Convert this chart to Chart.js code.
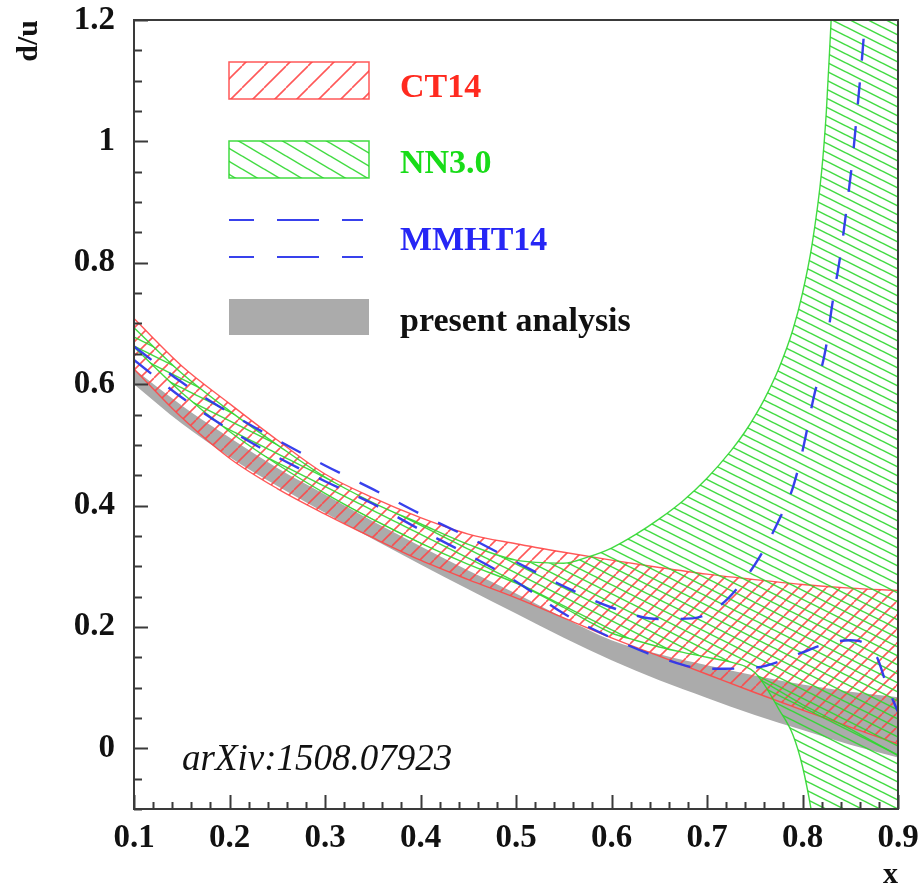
<!DOCTYPE html>
<html><head><meta charset="utf-8">
<script src="https://cdn.jsdelivr.net/npm/chart.js@4.4.1/dist/chart.umd.min.js"></script>
<style>html,body{margin:0;padding:0;background:#fff;}#wrap{width:920px;height:886px;}</style>
</head><body><div id="wrap"><canvas id="c" width="920" height="886"></canvas></div>
<script>
// ---- data ----
const ct14X     = [0.1,0.15,0.2,0.25,0.3,0.35,0.4,0.45,0.5,0.55,0.6,0.65,0.7,0.75,0.8,0.85,0.9];
const ct14Upper = [0.708,0.630,0.568,0.508,0.452,0.413,0.380,0.353,0.337,0.323,0.310,0.298,0.287,0.278,0.270,0.264,0.260];
const ct14Lower = [0.625,0.545,0.478,0.428,0.386,0.347,0.310,0.278,0.248,0.215,0.182,0.152,0.122,0.092,0.063,0.035,0.007];

const nnX     = [0.1,0.15,0.2,0.25,0.3,0.35,0.4,0.45,0.5,0.55,0.575,0.6,0.625,0.65,0.675,0.7,0.725,0.74,0.75,0.76,0.775,0.79,0.8,0.81,0.82,0.825,0.83,0.85,0.9];
const nnUpper = [0.693,0.618,0.556,0.500,0.447,0.405,0.370,0.336,0.310,0.305,0.315,0.330,0.352,0.378,0.408,0.445,0.490,0.522,0.547,0.575,0.625,0.690,0.750,0.830,0.950,1.050,1.200,1.800,2.600];
const nnLower = [0.661,0.586,0.522,0.468,0.420,0.377,0.338,0.303,0.272,0.232,0.210,0.190,0.178,0.167,0.158,0.150,0.142,0.135,0.125,0.105,0.065,0.022,-0.030,-0.110,-0.220,-0.300,-0.380,-0.700,-1.500];
const nnEdgeX = [0.757,0.8,0.85,0.9];
const nnEdgeY = [0.112,0.072,0.032,-0.012];

const mmhtUpperX = [0.1,0.15,0.2,0.25,0.3,0.35,0.4,0.45,0.5,0.55,0.6,0.65,0.685,0.715,0.735,0.755,0.775,0.79,0.8,0.812,0.824,0.832,0.84,0.847,0.853,0.858,0.863,0.87];
const mmhtUpper  = [0.662,0.603,0.553,0.508,0.466,0.427,0.386,0.348,0.307,0.267,0.232,0.213,0.214,0.237,0.270,0.315,0.375,0.430,0.490,0.580,0.656,0.740,0.816,0.900,0.980,1.063,1.150,1.300];
const mmhtLowerX = [0.1,0.15,0.2,0.25,0.3,0.35,0.4,0.45,0.5,0.55,0.6,0.65,0.7,0.75,0.8,0.82,0.85,0.865,0.878,0.888,0.9];
const mmhtLower  = [0.640,0.578,0.525,0.480,0.440,0.403,0.360,0.319,0.275,0.222,0.182,0.150,0.131,0.133,0.158,0.170,0.178,0.173,0.150,0.105,0.060];

const anaX     = [0.1,0.15,0.2,0.25,0.3,0.35,0.4,0.45,0.5,0.55,0.6,0.65,0.7,0.75,0.8,0.85,0.9];
const anaUpper = [0.625,0.565,0.512,0.462,0.418,0.374,0.333,0.293,0.255,0.215,0.178,0.155,0.137,0.120,0.105,0.093,0.084];
const anaLower = [0.600,0.535,0.480,0.432,0.388,0.345,0.303,0.262,0.222,0.182,0.145,0.112,0.083,0.055,0.030,0.006,-0.015];

const xTickValues = [0.1,0.2,0.3,0.4,0.5,0.6,0.7,0.8,0.9];
const xTickLabels = ['0.1','0.2','0.3','0.4','0.5','0.6','0.7','0.8','0.9'];
const yTickValues = [0,0.2,0.4,0.6,0.8,1,1.2];
const yTickLabels = ['0','0.2','0.4','0.6','0.8','1','1.2'];
const legendLabels = ['CT14','NN3.0','MMHT14','present analysis'];
const annotationText = 'arXiv:1508.07923';

// ---- styles ----
const RED = 'rgba(255,70,70,0.9)', GREEN = 'rgba(45,215,45,0.9)', BLUE = 'rgba(45,55,235,0.95)', GRAY = '#ababab';
const SERIF = "'Liberation Serif','Times New Roman',serif";

function hatch(color, w, h, up, lw) {
  const c = document.createElement('canvas'); c.width = w; c.height = h;
  const g = c.getContext('2d'); g.strokeStyle = color; g.lineWidth = lw;
  for (let k = -1; k <= 1; k++) {
    g.beginPath();
    if (up) { g.moveTo(0, h + k*h); g.lineTo(w, k*h); }
    else { g.moveTo(0, k*h); g.lineTo(w, h + k*h); }
    g.stroke();
  }
  return g.createPattern(c, 'repeat');
}
const redHatch = hatch(RED, 14, 14, true, 1.6);
const greenHatch = hatch(GREEN, 18, 9, false, 1.5);
const redHatchL = hatch(RED, 22, 22, true, 1.6);
const greenHatchL = hatch(GREEN, 22, 13, false, 1.5);

const pts = (xs, ys) => xs.map((x, i) => ({x, y: ys[i]}));
const base = {pointRadius: 0, pointHoverRadius: 0, cubicInterpolationMode: 'monotone', clip: 0};

const datasets = [
  {...base, label: 'MMHT14 upper', data: pts(mmhtUpperX, mmhtUpper), borderColor: BLUE, borderWidth: 2.4, borderDash: [22, 22], fill: false},
  {...base, label: 'MMHT14 lower', data: pts(mmhtLowerX, mmhtLower), borderColor: BLUE, borderWidth: 2.4, borderDash: [22, 22], fill: false},
  {...base, label: 'NN3.0 edge', data: pts(nnEdgeX, nnEdgeY), borderColor: GREEN, borderWidth: 1.4, fill: false, cubicInterpolationMode: 'default', tension: 0},
  {...base, label: 'NN3.0 upper', data: pts(nnX, nnUpper), borderColor: GREEN, borderWidth: 1.4, fill: '+1', backgroundColor: greenHatch},
  {...base, label: 'NN3.0 lower', data: pts(nnX, nnLower), borderColor: GREEN, borderWidth: 1.4, fill: false},
  {...base, label: 'CT14 upper', data: pts(ct14X, ct14Upper), borderColor: RED, borderWidth: 1.4, fill: '+1', backgroundColor: redHatch},
  {...base, label: 'CT14 lower', data: pts(ct14X, ct14Lower), borderColor: RED, borderWidth: 1.4, fill: false},
  {...base, label: 'present analysis upper', data: pts(anaX, anaUpper), borderWidth: 0, borderColor: GRAY, fill: '+1', backgroundColor: GRAY},
  {...base, label: 'present analysis lower', data: pts(anaX, anaLower), borderWidth: 0, borderColor: GRAY, fill: false}
];

const framePlugin = {
  id: 'frame',
  afterDatasetsDraw(chart) {
    const {ctx, chartArea: a, scales: {x, y}} = chart;
    ctx.save();
    ctx.strokeStyle = '#3a3a3a'; ctx.lineWidth = 2;
    ctx.beginPath();
    for (let i = 0; i <= 40; i++) {
      const v = 0.1 + i * 0.02, px = Math.round(x.getPixelForValue(v)) + 0.5;
      const len = (i % 5 === 0) ? 14 : 7;
      ctx.moveTo(px, a.bottom); ctx.lineTo(px, a.bottom - len);
    }
    for (let i = 0; i <= 26; i++) {
      const v = -0.1 + i * 0.05, py = Math.round(y.getPixelForValue(v)) + 0.5;
      const len = ((i - 2) % 4 === 0) ? 14 : 8;
      ctx.moveTo(a.left, py); ctx.lineTo(a.left + len, py);
    }
    ctx.stroke();
    ctx.strokeRect(a.left, a.top, a.right - a.left, a.bottom - a.top);
    ctx.restore();
  },
  afterDraw(chart) {
    const {ctx, chartArea: a} = chart;
    ctx.save();
    const L = a.left + 95, W = 140;
    ctx.fillStyle = redHatchL; ctx.fillRect(L, a.top + 42, W, 37);
    ctx.strokeStyle = RED; ctx.lineWidth = 1.5; ctx.strokeRect(L, a.top + 42, W, 37);
    ctx.fillStyle = greenHatchL; ctx.fillRect(L, a.top + 121, W, 37);
    ctx.strokeStyle = GREEN; ctx.strokeRect(L, a.top + 121, W, 37);
    ctx.strokeStyle = BLUE; ctx.lineWidth = 2; ctx.setLineDash([42, 23]); ctx.lineDashOffset = 17;
    ctx.beginPath(); ctx.moveTo(L, a.top + 200); ctx.lineTo(L + 134, a.top + 200);
    ctx.moveTo(L, a.top + 237); ctx.lineTo(L + 134, a.top + 237); ctx.stroke();
    ctx.setLineDash([]);
    ctx.fillStyle = GRAY; ctx.fillRect(L, a.top + 279, W, 36);
    ctx.font = "bold 34px " + SERIF; ctx.textBaseline = 'alphabetic'; ctx.textAlign = 'left';
    const TX = a.left + 266;
    ctx.fillStyle = '#ff2a1f'; ctx.fillText(legendLabels[0], TX, a.top + 77);
    ctx.fillStyle = '#18dc18'; ctx.fillText(legendLabels[1], TX, a.top + 153);
    ctx.fillStyle = '#2626f5'; ctx.fillText(legendLabels[2], TX, a.top + 230);
    ctx.fillStyle = '#111'; ctx.fillText(legendLabels[3], TX, a.top + 311);
    ctx.font = "italic 37px " + SERIF; ctx.fillStyle = '#111';
    ctx.fillText(annotationText, a.left + 48, a.bottom - 39);
    ctx.restore();
  }
};

new Chart(document.getElementById('c'), {
  type: 'line',
  data: {datasets},
  options: {
    responsive: false, animation: false, devicePixelRatio: 1,
    layout: {padding: {left: 0, top: 20, right: 22, bottom: 0}},
    elements: {line: {capBezierPoints: false}},
    plugins: {legend: {display: false}, tooltip: {enabled: false}, filler: {propagate: false}},
    scales: {
      x: {
        type: 'linear', min: 0.1, max: 0.9,
        grid: {display: false, drawTicks: true, tickLength: 10}, border: {display: false},
        afterBuildTicks: s => { s.ticks = xTickValues.map(v => ({value: v})); },
        afterFit: s => { s.height = 77; },
        ticks: {autoSkip: false, maxRotation: 0, padding: 0, color: '#111',
          font: {family: SERIF, weight: 'bold', size: 33},
          callback: (v, i) => xTickLabels[i]},
        title: {display: true, text: 'x', align: 'end', color: '#111', padding: 0,
          font: {family: SERIF, weight: 'bold', size: 30, lineHeight: 0.75}}
      },
      y: {
        type: 'linear', min: -0.1, max: 1.2,
        grid: {display: false, drawTicks: true, tickLength: 19}, border: {display: false},
        afterBuildTicks: s => { s.ticks = yTickValues.map(v => ({value: v})); },
        afterFit: s => { s.width = 134; },
        ticks: {autoSkip: false, padding: 0, color: '#111',
          font: {family: SERIF, weight: 'bold', size: 33},
          callback: (v, i) => yTickLabels[i]},
        title: {display: true, text: 'd/u', align: 'end', color: '#111', padding: {top: 11, bottom: 0},
          font: {family: SERIF, weight: 'bold', size: 30}}
      }
    }
  },
  plugins: [framePlugin]
});
</script></body></html>
